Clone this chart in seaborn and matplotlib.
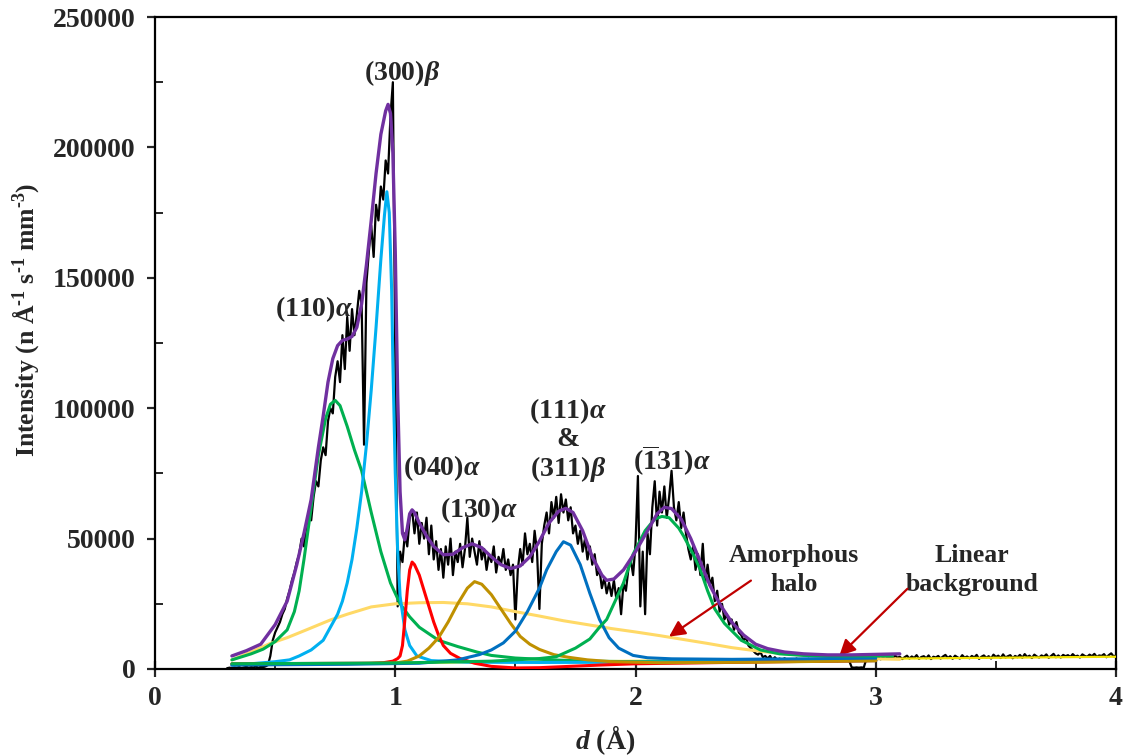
import numpy as np
import pandas as pd
import matplotlib
matplotlib.use("Agg")
import matplotlib.pyplot as plt
from matplotlib.ticker import MultipleLocator
import seaborn as sns

# ---------------- data (intensity in thousands) ----------------
d_obs = np.round(np.arange(0.30, 4.0001, 0.01), 2)
i_obs = [
    0.3, 0.5, 0.4, 0.6, 0.5, 0.7, 0.4, 0.6, 0.8, 0.5,
    0.7, 0.6, 0.9, 0.5, 0.8, 0.7, 1.0, 1.5, 5, 11,
    14, 16, 18, 21, 23, 27, 30, 34, 37, 41,
    44, 50, 47, 55, 60, 57, 66, 72, 70, 80,
    85, 82, 95, 100, 98, 112, 118, 110, 128, 115,
    135, 122, 138, 128, 136, 145, 140, 86, 148, 160,
    170, 158, 178, 172, 185, 180, 195, 190, 212, 225,
    120, 24, 45, 41, 52, 47, 58, 61, 52, 60,
    48, 56, 50, 58, 44, 55, 42, 49, 38, 46,
    35, 47, 40, 50, 36, 45, 41, 48, 39, 46,
    58, 43, 50, 45, 40, 49, 42, 46, 38, 44,
    41, 47, 37, 43, 40, 46, 38, 42, 36, 40,
    19, 38, 46, 40, 52, 44, 48, 41, 53, 45,
    23, 48, 55, 60, 52, 64, 58, 66, 56, 67,
    60, 65, 57, 62, 52, 55, 48, 53, 45, 50,
    42, 47, 40, 44, 36, 38, 31, 35, 29, 33,
    28, 34, 27, 31, 21, 33, 30, 38, 42, 36,
    48, 74, 24, 45, 21, 52, 44, 62, 72, 55,
    68, 60, 70, 58, 66, 76, 62, 57, 64, 54,
    60, 52, 46, 42, 47, 38, 44, 36, 48, 33,
    40, 32, 35, 26, 30, 22, 25, 19, 21, 17,
    19, 15, 18, 14, 13, 11, 12, 9, 8, 7,
    6, 5.5, 6.5, 4.5, 5, 4, 5, 3.5, 4.5, 3.5,
    4.0, 3.2, 4.1, 3.6, 3.0, 3.8, 3.3, 4.0, 3.4, 3.1,
    3.7, 3.2, 3.9, 3.4, 3.0, 3.6, 3.5, 3.1, 3.8, 3.3,
    3.4, 3.9, 3.2, 3.6, 3.0, 3.5, 3.7, 3.2, 3.4, 3.0,
    0.6, 0.5, 0.6, 0.5, 0.6, 0.5, 3.6, 4.2, 3.8, 4.5,
    4.0, 4.8, 3.7, 4.4, 5.0, 4.1, 4.6, 3.9, 5.2, 4.3,
    4.7, 3.8, 4.5, 5.1, 4.0, 4.8, 4.2, 5.3, 3.9, 4.6,
    4.9, 4.1, 5.2, 3.8, 4.7, 4.4, 5.0, 4.0, 4.8, 5.4,
    4.2, 4.9, 3.9, 5.1, 4.5, 4.0, 5.3, 4.3, 4.8, 4.1,
    5.0, 4.4, 5.4, 3.9, 4.7, 5.2, 4.3, 4.9, 4.0, 5.5,
    4.6, 5.1, 4.2, 5.6, 4.4, 4.9, 5.3, 4.1, 5.0, 4.5,
    5.4, 4.3, 5.7, 4.6, 5.1, 4.2, 5.5, 4.8, 4.4, 5.2,
    4.7, 5.6, 4.3, 5.0, 5.8, 4.5, 5.2, 4.4, 5.4, 4.9,
    5.3, 4.6, 5.7, 4.8, 5.1, 4.4, 5.6, 5.0, 4.7, 5.5,
    4.9, 5.8, 4.6, 5.2, 5.0, 5.7, 4.5, 5.3, 6.0, 4.8,
    5.2,
]

bg_d = [0.32, 4.00]
bg_i = [1.8, 4.7]

halo_d = [0.32, 0.40, 0.48, 0.55, 0.63, 0.73, 0.80, 0.90, 1.00, 1.10, 1.20, 1.30, 1.40,
          1.50, 1.60, 1.70, 1.80, 1.90, 2.00, 2.10, 2.20, 2.30, 2.40, 2.50, 2.60, 2.70,
          2.80, 2.90, 3.00, 3.10]
halo_i = [3.5, 6.5, 9.8, 12, 15, 18.8, 21, 23.8, 25, 25.4, 25.5, 25, 23.8,
          22, 20.3, 18.5, 17, 15.5, 14.2, 12.8, 11.3, 9.8, 8.2, 7, 6, 5.3,
          4.7, 4.2, 3.9, 3.7]

p110_d = [0.32, 0.40, 0.45, 0.50, 0.55, 0.58, 0.60, 0.62, 0.65, 0.68, 0.71, 0.73, 0.75,
          0.77, 0.80, 0.83, 0.86, 0.90, 0.94, 0.98, 1.02, 1.06, 1.10, 1.18, 1.26, 1.34,
          1.40, 1.50, 1.65, 1.80, 2.00, 2.50, 3.00]
p110_i = [3.5, 5.8, 7.6, 10.5, 15, 22, 30, 42, 62, 82, 96, 101.5, 103,
          101, 93, 84, 76, 60, 45, 33, 25, 20, 16, 11, 8.6, 6.5,
          5.2, 4.2, 3.5, 3.0, 2.8, 2.9, 3.2]

p300_d = [0.32, 0.40, 0.50, 0.56, 0.60, 0.65, 0.70, 0.73, 0.76, 0.78, 0.80, 0.82, 0.84,
          0.86, 0.88, 0.90, 0.92, 0.94, 0.955, 0.965, 0.975, 0.985, 0.99, 1.00, 1.01,
          1.02, 1.04, 1.06, 1.09, 1.15, 1.30, 1.60, 2.00, 2.50, 3.00]
p300_i = [1.5, 2.0, 2.8, 3.5, 5, 7.3, 11, 16, 21, 26, 33, 42, 54,
          68, 86, 107, 131, 157, 174, 183, 175, 145, 118, 75, 45,
          28, 15, 9, 5, 3.2, 2.6, 2.5, 2.6, 2.9, 3.3]

p040_d = [0.32, 0.90, 0.95, 0.99, 1.01, 1.02, 1.03, 1.04, 1.05, 1.06, 1.07, 1.08, 1.10,
          1.12, 1.14, 1.16, 1.18, 1.20, 1.23, 1.27, 1.33, 1.40, 1.50, 1.60, 1.70, 1.85,
          2.00, 2.30, 2.60, 3.00]
p040_i = [2.0, 2.2, 2.4, 3, 4, 5, 9, 19, 30, 38, 41, 40, 36,
          30, 24, 18, 13, 9, 6, 4, 2.2, 1.0, 0.4, 0.5, 0.9, 1.5,
          2.0, 2.4, 2.8, 3.2]

p130_d = [0.32, 0.80, 1.00, 1.05, 1.10, 1.14, 1.18, 1.22, 1.26, 1.30, 1.33, 1.36, 1.40,
          1.44, 1.48, 1.52, 1.56, 1.60, 1.66, 1.72, 1.80, 1.90, 2.10, 2.50, 3.00]
p130_i = [1.8, 2.0, 2.3, 3.0, 5.0, 8, 12, 18, 25, 31, 33.5, 32.5, 28.5,
          23, 17.5, 12.5, 9.5, 7.5, 5.5, 4.5, 3.5, 2.8, 2.4, 2.6, 3.2]

p111_d = [0.32, 0.80, 1.10, 1.26, 1.35, 1.40, 1.45, 1.50, 1.55, 1.60, 1.63, 1.67, 1.70,
          1.73, 1.77, 1.81, 1.85, 1.89, 1.93, 1.99, 2.05, 2.15, 2.40, 2.70, 3.00]
p111_i = [1.5, 1.8, 2.2, 3.5, 5.5, 7.3, 10, 14.5, 22, 31, 38, 45, 48.8,
          47.5, 40, 29, 19, 12, 8, 5.2, 4.3, 3.9, 3.7, 3.9, 4.2]

p131_d = [0.32, 1.00, 1.40, 1.60, 1.67, 1.75, 1.81, 1.85, 1.88, 1.92, 1.95, 1.99, 2.04,
          2.08, 2.11, 2.14, 2.18, 2.20, 2.24, 2.27, 2.30, 2.33, 2.37, 2.44, 2.52, 2.60,
          2.70, 2.85, 3.07]
p131_i = [2.0, 2.3, 3.0, 4.0, 4.7, 8, 11.5, 16, 19, 27, 33, 44, 53,
          57.5, 58.5, 58, 54, 51, 44, 38, 30, 23, 17.5, 11, 7.3, 5.8,
          5.2, 5.0, 5.0]

fit_d = [0.32, 0.38, 0.44, 0.50, 0.55, 0.59, 0.62, 0.65, 0.68, 0.70, 0.72, 0.74, 0.76,
         0.78, 0.80, 0.82, 0.84, 0.86, 0.88, 0.90, 0.92, 0.94, 0.96, 0.97, 0.98, 0.99,
         1.00, 1.01, 1.02, 1.03, 1.04, 1.05, 1.06, 1.07, 1.08, 1.10, 1.13, 1.16, 1.20,
         1.24, 1.28, 1.32, 1.36, 1.40, 1.44, 1.48, 1.52, 1.56, 1.60, 1.64, 1.68, 1.71,
         1.74, 1.78, 1.82, 1.86, 1.88, 1.91, 1.95, 2.00, 2.05, 2.09, 2.12, 2.15, 2.19,
         2.23, 2.27, 2.31, 2.35, 2.40, 2.45, 2.50, 2.55, 2.62, 2.70, 2.80, 2.90, 3.00, 3.10]
fit_i = [5, 7, 9.5, 17, 26, 40, 52, 65, 85, 97, 110, 119, 124,
         126, 126.5, 127.5, 131, 140, 155, 172, 190, 205, 214, 216.5, 213, 198,
         160, 105, 68, 52, 49.5, 54, 59.5, 61, 60, 56, 51, 47, 43.8,
         44, 46.5, 48, 46.5, 43, 40, 38.5, 39.5, 43, 49, 56, 60.5, 61.6,
         60, 53, 43, 36, 34, 34.5, 38, 45, 53, 59.5, 62, 61.5, 57.5,
         50, 41, 32, 25, 18, 13, 9.5, 7.8, 6.5, 5.8, 5.4, 5.4, 5.6, 5.8]

curves = [
    ("Linear background", bg_d, bg_i, "#F2E200", 1.6),
    ("Amorphous halo", halo_d, halo_i, "#FFD966", 2.2),
    ("(110)a", p110_d, p110_i, "#00B050", 2.2),
    ("(300)b", p300_d, p300_i, "#00B0F0", 2.2),
    ("(040)a", p040_d, p040_i, "#FF0000", 2.2),
    ("(130)a", p130_d, p130_i, "#BF9000", 2.2),
    ("(111)a", p111_d, p111_i, "#0070C0", 2.2),
    ("(-131)a", p131_d, p131_i, "#00B050", 2.2),
]

# ---------------- style ----------------
sns.set_style("white")
plt.rcParams["font.family"] = ["Liberation Serif", "DejaVu Serif"]
plt.rcParams["font.weight"] = "bold"
plt.rcParams["mathtext.fontset"] = "custom"
plt.rcParams["mathtext.rm"] = "Liberation Serif:bold"
plt.rcParams["mathtext.bf"] = "Liberation Serif:bold"
plt.rcParams["mathtext.it"] = "Liberation Serif:italic:bold"

fig = plt.figure(figsize=(11.25, 7.56), dpi=100)
ax = fig.add_axes([0.1378, 0.1151, 0.8542, 0.8624])

df_obs = pd.DataFrame({"d": d_obs, "I": np.array(i_obs) * 1000})
sns.lineplot(data=df_obs, x="d", y="I", ax=ax, color="black", lw=1.6,
             estimator=None, sort=False, zorder=2)

for name, xs, ys, col, lw in curves:
    dfc = pd.DataFrame({"d": xs, "I": np.array(ys) * 1000})
    sns.lineplot(data=dfc, x="d", y="I", ax=ax, color=col, lw=lw,
                 estimator=None, sort=False, zorder=3)

df_fit = pd.DataFrame({"d": fit_d, "I": np.array(fit_i) * 1000})
sns.lineplot(data=df_fit, x="d", y="I", ax=ax, color="#7030A0", lw=2.4,
             estimator=None, sort=False, zorder=4)

ax.set_xlim(0, 4)
ax.set_ylim(0, 250000)
ax.xaxis.set_major_locator(MultipleLocator(1))
ax.xaxis.set_minor_locator(MultipleLocator(0.5))
ax.yaxis.set_major_locator(MultipleLocator(50000))
ax.yaxis.set_minor_locator(MultipleLocator(25000))
ax.tick_params(axis="x", which="major", direction="inout", length=11, width=1.6,
               labelsize=20, pad=7, bottom=True)
ax.tick_params(axis="x", which="minor", direction="in", length=6, width=1.4, bottom=True)
ax.tick_params(axis="y", which="major", direction="out", length=6, width=1.6,
               labelsize=20, pad=8, left=True)
ax.tick_params(axis="y", which="minor", direction="in", length=6, width=1.4, left=True)
for lab in ax.get_xticklabels() + ax.get_yticklabels():
    lab.set_fontweight("bold")
for sp in ax.spines.values():
    sp.set_linewidth(1.6)
    sp.set_color("black")

ax.set_xlabel(r"$d$ (Å)", fontsize=20, fontweight="bold")
ax.xaxis.set_label_coords(0.468, -0.083)
ax.set_ylabel(r"Intensity (n Å$^{\text{-}1}$ s$^{\text{-}1}$ mm$^{\text{-}3}$)",
              fontsize=18.5, fontweight="bold")
ax.yaxis.set_label_coords(-0.119, 0.535)

fs = 20
ax.text(1.03, 228500, r"(300)$\beta$", fontsize=fs, ha="center", va="center")
ax.text(0.66, 138000, r"(110)$\alpha$", fontsize=fs, ha="center", va="center")
ax.text(1.195, 77000, r"(040)$\alpha$", fontsize=fs, ha="center", va="center")
ax.text(1.35, 61000, r"(130)$\alpha$", fontsize=fs, ha="center", va="center")
ax.text(1.72, 99000, r"(111)$\alpha$", fontsize=fs, ha="center", va="center")
ax.text(1.72, 88000, r"&", fontsize=fs, ha="center", va="center")
ax.text(1.72, 76500, r"(311)$\beta$", fontsize=fs, ha="center", va="center")
ax.text(2.15, 80000, r"($\overline{1}$31)$\alpha$", fontsize=fs, ha="center", va="center")
ax.text(2.66, 43500, "Amorphous", fontsize=18.5, ha="center", va="center")
ax.text(2.66, 32500, "halo", fontsize=18.5, ha="center", va="center")
ax.text(3.40, 43500, "Linear", fontsize=18.5, ha="center", va="center")
ax.text(3.40, 32500, "background", fontsize=18.5, ha="center", va="center")

arrow = dict(arrowstyle="-|>", color="#C00000", lw=1.6, mutation_scale=24)
ax.annotate("", xy=(2.13, 11800), xytext=(2.49, 34500), arrowprops=arrow)
ax.annotate("", xy=(2.84, 4300), xytext=(3.14, 31500), arrowprops=arrow)

fig.savefig("out.png", dpi=100)
